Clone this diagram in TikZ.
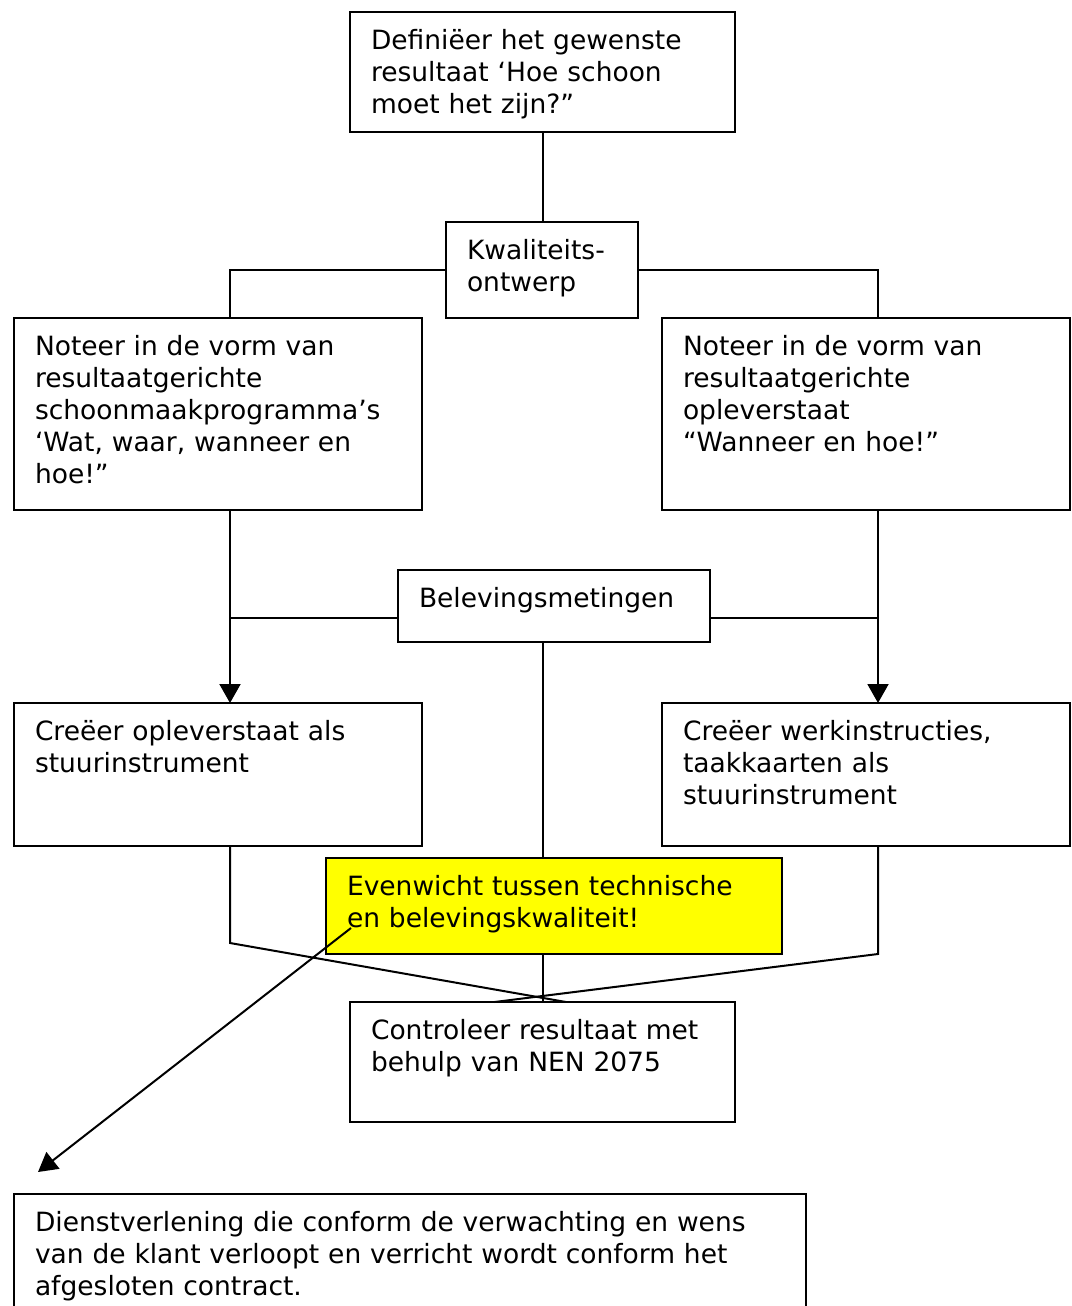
\documentclass[tikz,border=0pt]{standalone}
\usepackage{fontspec}
\setmainfont{DejaVu Sans}
\usetikzlibrary{arrows.meta}
\definecolor{geel}{RGB}{255,255,0}

\tikzset{
    box/.style={draw, line width=1pt, outer sep=0pt, anchor=north west, align=left, inner xsep=10.5pt, inner ysep=0pt, text height=18.5pt, font=\fontsize{13.25pt}{16pt}\selectfont},
    conn/.style={line width=1pt},
    arr/.style={line width=1pt, -{Triangle[length=9.5pt,width=10.5pt]}}
}

\begin{document}
\begin{tikzpicture}[x=0.5pt, y=-0.5pt]
    \useasboundingbox (0,0) rectangle (1071,1306);
    \clip (0,0) rectangle (1071,1306);
    \coordinate (lline) at (230,0);
    \coordinate (mline) at (542.5,0);
    \coordinate (rline) at (878,0);

    \node [box, text width=171.5pt, text depth=41.5pt] (def) at (350,12) {Definiëer het gewenste\\resultaat ‘Hoe schoon\\moet het zijn?”};
    \node [box, text width=75pt, text depth=29.5pt] (kwal) at (446,222) {Kwaliteits-\\ontwerp};
    \node [box, text width=183pt, text depth=77.5pt] (lnot) at (14,318) {Noteer in de vorm van\\resultaatgerichte\\schoonmaakprogramma’s\\‘Wat, waar, wanneer en\\hoe!”};
    \node [box, text width=183pt, text depth=77.5pt] (rnot) at (662,318) {Noteer in de vorm van\\resultaatgerichte\\opleverstaat\\“Wanneer en hoe!”};
    \node [box, text width=135pt, text depth=17.5pt] (bel) at (398,570) {Belevingsmetingen};
    \node [box, text width=183pt, text depth=53pt] (lcre) at (14,703) {Creëer opleverstaat als\\stuurinstrument};
    \node [box, text width=183pt, text depth=53pt] (rcre) at (662,703) {Creëer werkinstructies,\\taakkaarten als\\stuurinstrument};
    \node [box, text width=375pt, text depth=80pt] (klant) at (14,1194) {Dienstverlening die conform de verwachting en wens\\van de klant verloopt en verricht wordt conform het\\afgesloten contract.};
    \node [box, text width=171.5pt, text depth=41.5pt] (ctrl) at (350,1002) {Controleer resultaat met\\behulp van NEN 2075};

    \draw [conn] (def.south) -- (kwal.north -| mline);
    \draw [conn] (kwal.west) -| (lnot.north -| lline);
    \draw [conn] (kwal.east) -| (rnot.north -| rline);
    \draw [arr] (lnot.south -| lline) -- (lcre.north -| lline);
    \draw [arr] (rnot.south -| rline) -- (rcre.north -| rline);
    \draw [conn] ([yshift=-6pt]bel.west) -- ([yshift=-6pt]bel.west -| lline);
    \draw [conn] ([yshift=-6pt]bel.east) -- ([yshift=-6pt]bel.east -| rline);
    \draw [conn] (bel.south -| mline) -- (ctrl.north);
    \draw [conn] (lcre.south -| lline) -- ++(0,97) -- ([xshift=11.75pt]ctrl.north);
    \draw [conn] (rcre.south -| rline) -- ++(0,108) -- ([xshift=-24pt]ctrl.north);

    \node [box, fill=geel, text width=207pt, text depth=29.5pt] (ev) at (326,858) {Evenwicht tussen technische\\en belevingskwaliteit!};
    \coordinate (evstart) at (351,928);
    \coordinate (pijl) at (38,1172);
    \draw [arr] (evstart) -- (pijl);
\end{tikzpicture}
\end{document}
